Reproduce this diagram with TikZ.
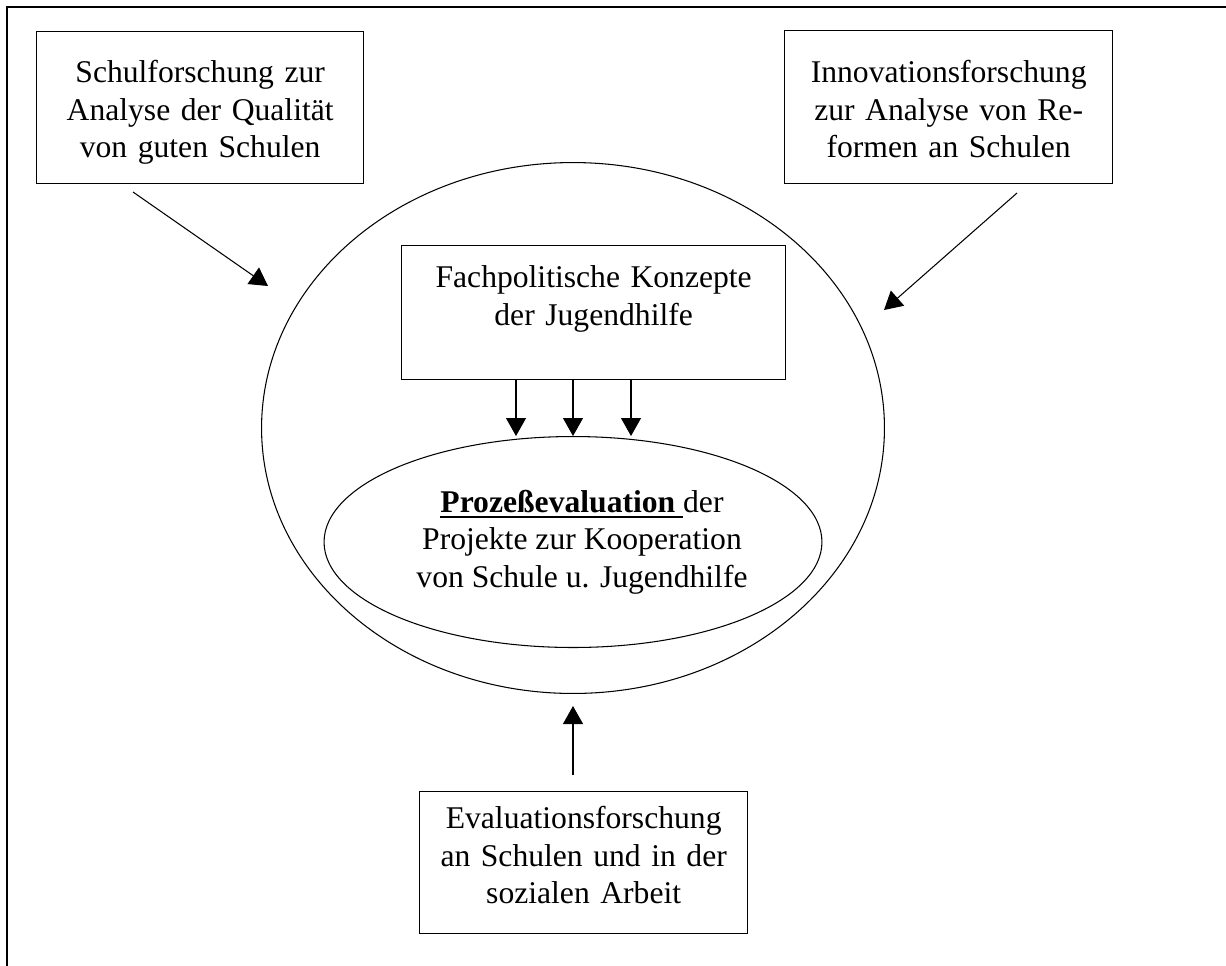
\documentclass[tikz,border=0pt]{standalone}
\usepackage{fontspec}
\setmainfont{Liberation Serif}
\usetikzlibrary{arrows.meta,positioning,shapes.geometric}

\newcommand{\ulbf}[1]{\setbox0\hbox{#1}\rlap{\rule[-3.2pt]{\wd0}{1.3pt}}\box0}

\begin{document}
\begin{tikzpicture}[x=0.02cm, y=-0.02cm,
    box/.style={draw, line width=0.8pt, inner sep=0pt, align=center, anchor=north west,
                font=\fontsize{18}{21.3}\selectfont},
    oval/.style={draw, ellipse, line width=0.6pt, inner sep=0pt},
    arrow/.style={-{Triangle[width=0.4cm, length=0.36cm]}, line width=0.6pt},
  ]
  \useasboundingbox (0,0) rectangle (1226,965);
  \clip (0,0) rectangle (1226,965);
  \draw[line width=1.1pt] (7,7) rectangle (1260,1000);

  \node[box, text width=6.54cm, text height=1.02cm, text depth=2.02cm] (schul) at (36,31)
    {Schulforschung zur\\Analyse der Qualität\\von guten Schulen};
  \node[box, text width=6.56cm, text height=1.04cm, text depth=2.02cm] (inno) at (784,30)
    {Innovationsforschung\\zur Analyse von Re-\\formen an Schulen};

  \node[oval, minimum width=12.46cm, minimum height=10.62cm] (outer) at (573,428) {};
  \node[box, text width=7.68cm, text height=0.84cm, text depth=1.84cm] (fach) at (401,245)
    {Fachpolitische Konzepte\\der Jugendhilfe};
  \node[oval, minimum width=9.96cm, minimum height=4.22cm,
        label={[xshift=0.18cm, align=center, font=\fontsize{18}{21.3}\selectfont]center:
          \ulbf{\textbf{Prozeßevaluation} }der\\Projekte zur Kooperation\\von Schule u. Jugendhilfe}]
    (proz) at (573,542) {};

  \node[box, text width=6.56cm, text height=0.74cm, text depth=2.1cm] (eval) at (419,791)
    {Evaluationsforschung\\an Schulen und in der\\sozialen Arbeit};

  \coordinate (l0) at (133,192);
  \coordinate (l1) at (268,286);
  \coordinate (r0) at (1017,193);
  \coordinate (r1) at (884,310);
  \coordinate (u0) at (573,775);
  \coordinate (u1) at (573,706);

  \draw[arrow] (l0) -- (l1);
  \draw[arrow] (r0) -- (r1);
  \draw[arrow] (u0) -- (u1);
  \foreach \x in {516,573,631}
    \draw[arrow] (\x,0 |- fach.south) -- (\x,0 |- proz.north);
\end{tikzpicture}
\end{document}
